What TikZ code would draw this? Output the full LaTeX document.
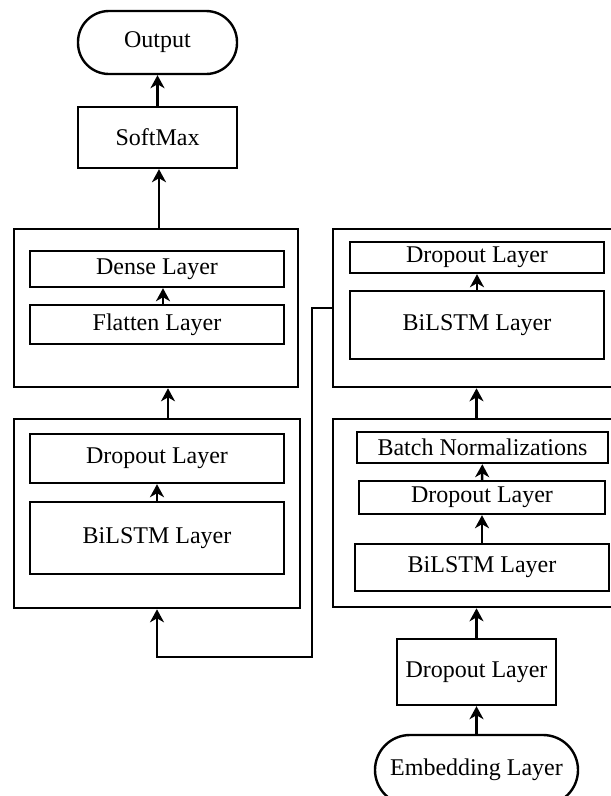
\documentclass[tikz,border=0pt]{standalone}
\usepackage{fontspec}
\setmainfont{Liberation Serif}
\usetikzlibrary{arrows.meta,positioning}
\newcommand{\LayerFont}{\fontsize{24}{28}\selectfont}

\begin{document}
\begin{tikzpicture}[
  x=1pt, y=-1pt,
  every node/.style={font=\LayerFont},
  layer/.style={rectangle, draw=black, line width=2.4pt, inner sep=0pt},
  block/.style={rectangle, draw=black, line width=2.6pt, inner sep=0pt},
  terminal/.style={rectangle, rounded corners=31pt, draw=black, line width=2.4pt, inner sep=0pt},
  link/.style={-{Stealth[length=13pt,width=14pt,inset=4pt]}, line width=2.5pt}
]
\useasboundingbox (0,0) rectangle (611,796);

% ---------- Outer blocks ----------
\node[block, minimum width=284pt, minimum height=158pt] (BlkL1) at (156,308) {};
\node[block, minimum width=286pt, minimum height=189pt] (BlkL2) at (157,513.5) {};
\node[block, minimum width=287pt, minimum height=158pt] (BlkR1) at (476.5,308) {};
\node[block, minimum width=287pt, minimum height=188pt] (BlkR2) at (476.5,513) {};

% ---------- Head ----------
\node[terminal, minimum width=159pt, minimum height=63pt] (Out) at (157.5,42.5) {Output};
\node[layer, minimum width=159pt, minimum height=61pt] (SMax) at (157.5,137.5) {SoftMax};

% ---------- Left blocks ----------
\node[layer, minimum width=254pt, minimum height=36pt] (Dense) at (157,269) {Dense Layer};
\node[layer, minimum width=254pt, minimum height=39pt] (Flat) at (157,324.5) {Flatten Layer};
\node[layer, minimum width=254pt, minimum height=49pt] (DropL) at (157,458.5) {Dropout Layer};
\node[layer, minimum width=254pt, minimum height=72pt] (LstmL) at (157,538) {BiLSTM Layer};

% ---------- Right blocks ----------
\node[layer, minimum width=254pt, minimum height=31pt] (DropR1) at (477,257.5) {Dropout Layer};
\node[layer, minimum width=254pt, minimum height=68pt] (LstmR1) at (477,325) {BiLSTM Layer};
\node[layer, minimum width=251pt, minimum height=31pt] (BatchN) at (482.5,447.5) {Batch Normalizations};
\node[layer, minimum width=246pt, minimum height=33pt] (DropR2) at (482,497.5) {Dropout Layer};
\node[layer, minimum width=254pt, minimum height=47pt] (LstmR2) at (482,567.5) {BiLSTM Layer};

% ---------- Input ----------
\node[layer, minimum width=159pt, minimum height=66pt] (DropIn) at (476.5,672) {Dropout Layer};
\node[terminal, rounded corners=35pt, minimum width=203pt, minimum height=70pt] (Emb) at (476.5,770) {Embedding Layer};

% ---------- Links ----------
\draw[link] (Emb) -- (DropIn);
\draw[link] (DropIn) -- (DropIn |- BlkR2.south);
\draw[link] (LstmR2) -- (DropR2);
\draw[link] (DropR2) -- (BatchN);
\draw[link] (BlkR2.north) -- (BlkR1.south);
\draw[link] (LstmR1.north) -- (DropR1.south);
\coordinate (bendA) at (312,657);
\draw[link] (BlkR1.west) -| (bendA) -| (BlkL2.south);
\draw[link] (LstmL) -- (DropL);
\draw[link] ([xshift=12pt]BlkL1.south |- BlkL2.north) -- ([xshift=12pt]BlkL1.south);
\draw[link] ([xshift=6pt]Flat.north) -- ([xshift=6pt]Dense.south);
\draw[link] ([xshift=1.5pt]SMax.south |- BlkL1.north) -- ([xshift=1.5pt]SMax.south);
\draw[link] (SMax) -- (Out);

\end{tikzpicture}
\end{document}
